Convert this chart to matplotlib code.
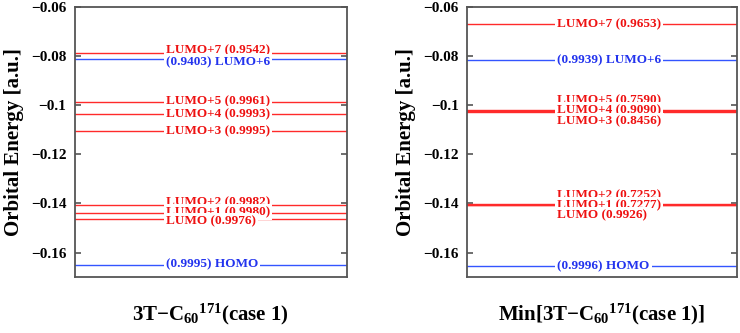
import matplotlib
matplotlib.use('Agg')
import matplotlib.pyplot as plt

plt.rcParams['font.family'] = ['Liberation Serif', 'DejaVu Serif']
plt.rcParams['font.weight'] = 'bold'
plt.rcParams['mathtext.fontset'] = 'custom'
plt.rcParams['mathtext.rm'] = 'Liberation Serif:bold'
plt.rcParams['mathtext.it'] = 'Liberation Serif:bold'
plt.rcParams['mathtext.bf'] = 'Liberation Serif:bold'

# level energies (a.u.) and label positions
names = ['LUMO+7', 'LUMO+6', 'LUMO+5', 'LUMO+4', 'LUMO+3', 'LUMO+2', 'LUMO+1', 'LUMO', 'HOMO']
kind = ['u', 'd', 'u', 'u', 'u', 'u', 'u', 'u', 'd']   # u = red, d = blue

left_e = [-0.0786, -0.0813, -0.0985, -0.1035, -0.1104, -0.1405, -0.1441, -0.1462, -0.1649]
left_occ = ['0.9542', '0.9403', '0.9961', '0.9993', '0.9995', '0.9982', '0.9980', '0.9976', '0.9995']
left_ty = [-0.0778, -0.0824, -0.0985, -0.1037, -0.1105, -0.1396, -0.1435, -0.1473, -0.1650]

right_e = [-0.0669, -0.0815, -0.1020, -0.1023, -0.1026, -0.1403, -0.1405, -0.1407, -0.1656]
right_occ = ['0.9653', '0.9939', '0.7590', '0.9090', '0.8456', '0.7252', '0.7277', '0.9926', '0.9996']
right_ty = [-0.0669, -0.0818, -0.0978, -0.1019, -0.1066, -0.1367, -0.1408, -0.1448, -0.1656]

yticks = [-0.16, -0.14, -0.12, -0.1, -0.08, -0.06]
ytick_labels = ['\u22120.16', '\u22120.14', '\u22120.12', '\u22120.1', '\u22120.08', '\u22120.06']

titles = ['3T\u2212C$_{60}{}^{171}$(case 1)', 'Min[3T\u2212C$_{60}{}^{171}$(case 1)]']

line_col = {'u': '#ff2a2a', 'd': '#3355ff'}
text_col = {'u': '#ee1111', 'd': '#2233ee'}

fig = plt.figure(figsize=(7.4, 3.33), dpi=100)
axes = [fig.add_axes([0.101, 0.168, 0.368, 0.811]),
        fig.add_axes([0.631, 0.168, 0.365, 0.811])]

for ax, e, occ, ty, title in zip(axes, [left_e, right_e], [left_occ, right_occ],
                                  [left_ty, right_ty], titles):
    for n, k, en, o, y in zip(names, kind, e, occ, ty):
        ax.axhline(en, color=line_col[k], lw=1.0)
        if k == 'u':
            lab = f'{n} ({o})'
        else:
            lab = f'({o}) {n}'
        ax.text(0.334, y, lab, transform=ax.get_yaxis_transform(), ha='left', va='center',
                color=text_col[k], fontsize=9.5, fontweight='bold',
                bbox=dict(facecolor='white', edgecolor='none', pad=1.5))
    ax.set_ylim(-0.17, -0.06)
    ax.set_xlim(0, 1)
    ax.set_xticks([])
    ax.set_yticks(yticks)
    ax.set_yticklabels(ytick_labels, fontsize=11, fontweight='bold')
    ax.tick_params(axis='y', direction='in', length=4, width=1.2, color='#555555',
                   right=True, pad=6)
    for s in ax.spines.values():
        s.set_color('#555555')
        s.set_linewidth(1.3)
    ax.set_ylabel('Orbital Energy [a.u.]', fontsize=15, fontweight='bold', labelpad=5)
    ax.set_xlabel(title, fontsize=15, fontweight='bold', labelpad=18)

fig.savefig('out.png', dpi=100)
